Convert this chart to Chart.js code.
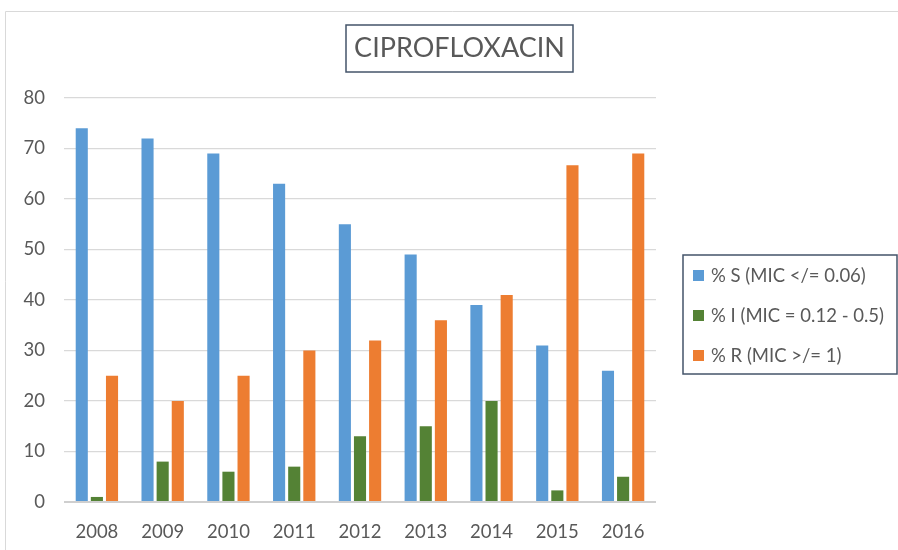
<!DOCTYPE html>
<html>
<head>
<meta charset="utf-8">
<title>CIPROFLOXACIN</title>
<script src="https://cdn.jsdelivr.net/npm/chart.js@4.4.1/dist/chart.umd.min.js"></script>
<style>
    html, body { margin: 0; padding: 0; background: #fff; }
    #wrap { position: relative; width: 898px; height: 550px; }
</style>
</head>
<body>
<div id="wrap"><canvas id="micChart" width="898" height="550"></canvas></div>
<script>
// Data
const years = ['2008', '2009', '2010', '2011', '2012', '2013', '2014', '2015', '2016'];
const susceptible = [74, 72, 69, 63, 55, 49, 39, 31, 26];
const intermediate = [1, 8, 6, 7, 13, 15, 20, 2.3, 5];
const resistant = [25, 20, 25, 30, 32, 36, 41, 66.7, 69];
const seriesNames = ['% S (MIC </= 0.06)', '% I (MIC = 0.12 - 0.5)', '% R (MIC >/= 1)'];
const yTicks = { min: 0, max: 80, step: 10 };

const COLORS = ['#5b9bd5', '#548235', '#ed7d31'];
const TEXT_COLOR = '#595959';
const FONT = 'Lato, "Open Sans", sans-serif';

// Frame, boxed title and boxed legend drawn on top of the chart
const boxesPlugin = {
    id: 'boxes',
    afterDraw(chart) {
        const ctx = chart.ctx;
        ctx.save();

        // outer chart border (only top and left visible)
        ctx.strokeStyle = '#d9d9d9';
        ctx.lineWidth = 1;
        ctx.beginPath();
        ctx.moveTo(5.5, 560);
        ctx.lineTo(5.5, 11.5);
        ctx.lineTo(900, 11.5);
        ctx.stroke();

        // title
        ctx.strokeStyle = '#44546a';
        ctx.lineWidth = 1.5;
        ctx.strokeRect(346, 25, 227, 47);
        ctx.fillStyle = TEXT_COLOR;
        ctx.font = '27px ' + FONT;
        ctx.textAlign = 'center';
        ctx.textBaseline = 'middle';
        ctx.fillText('CIPROFLOXACIN', 459.5, 48.5);

        // legend
        ctx.strokeRect(683, 255, 214, 119);
        ctx.font = '18.5px ' + FONT;
        ctx.textAlign = 'left';
        chart.data.datasets.forEach((ds, i) => {
            const y = 275.5 + i * 40;
            ctx.fillStyle = ds.backgroundColor;
            ctx.fillRect(693, y - 5.5, 11, 11);
            ctx.fillStyle = TEXT_COLOR;
            ctx.fillText(ds.label, 711, y + 1);
        });

        ctx.restore();
    }
};

function makeDataset(label, data, color) {
    return {
        label: label,
        data: data,
        backgroundColor: color,
        borderWidth: 0,
        barPercentage: 0.8,
        categoryPercentage: 0.69
    };
}

const ctx = document.getElementById('micChart').getContext('2d');
new Chart(ctx, {
    type: 'bar',
    data: {
        labels: years,
        datasets: [
            makeDataset(seriesNames[0], susceptible, COLORS[0]),
            makeDataset(seriesNames[1], intermediate, COLORS[1]),
            makeDataset(seriesNames[2], resistant, COLORS[2])
        ]
    },
    options: {
        responsive: false,
        animation: false,
        devicePixelRatio: 1,
        layout: {
            padding: { left: 5, right: 242, top: 98, bottom: 0 }
        },
        plugins: {
            legend: { display: false },
            title: { display: false },
            tooltip: { enabled: false }
        },
        scales: {
            x: {
                grid: { display: false, drawTicks: false },
                border: { display: false },
                ticks: {
                    color: TEXT_COLOR,
                    font: { family: FONT, size: 18.5 },
                    padding: 19,
                    maxRotation: 0
                },
                afterFit: (scale) => { scale.height = 48; }
            },
            y: {
                min: yTicks.min,
                max: yTicks.max,
                ticks: {
                    stepSize: yTicks.step,
                    color: TEXT_COLOR,
                    font: { family: FONT, size: 18.5 },
                    padding: 19
                },
                grid: {
                    color: (c) => c.tick && c.tick.value === 0 ? '#cfcfcf' : '#d9d9d9',
                    lineWidth: (c) => c.tick && c.tick.value === 0 ? 2 : 1.3,
                    drawTicks: false
                },
                border: { display: false },
                afterFit: (scale) => { scale.width = 59; }
            }
        }
    },
    plugins: [boxesPlugin]
});
</script>
</body>
</html>
